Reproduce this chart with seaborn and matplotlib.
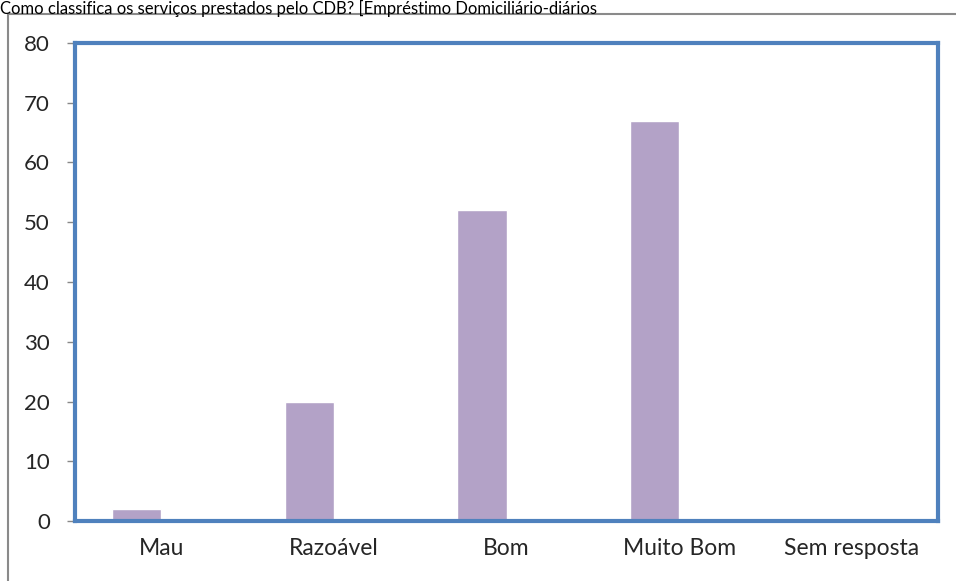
import matplotlib
matplotlib.use("Agg")
import matplotlib.pyplot as plt
import seaborn as sns
import pandas as pd
from matplotlib.lines import Line2D

categories = ["Mau", "Razoável", "Bom", "Muito Bom", "Sem resposta"]
values = [2, 20, 52, 67, 0]
empty_series = [0, 0, 0, 0, 0]
yticks = [0, 10, 20, 30, 40, 50, 60, 70, 80]
title = "Como classifica os serviços prestados pelo CDB? [Empréstimo Domiciliário-diários"

sns.set_style("white")
plt.rcParams['font.family'] = ['Lato', 'DejaVu Sans']

df = pd.DataFrame({
    "cat": categories * 2,
    "val": values + empty_series,
    "serie": ["Série 1"] * len(categories) + ["Série 2"] * len(categories),
})

fig = plt.figure(figsize=(9.56, 5.81), dpi=100)
ax = fig.add_axes([75/956, 60/581, (938-75)/956, (521-43)/581])

sns.barplot(data=df, x="cat", y="val", hue="serie",
            palette=["#B3A2C7", "#B3A2C7"], saturation=1, width=0.57,
            legend=False, ax=ax)

ax.set_ylim(0, 80)
ax.set_xlim(-0.5, len(categories) - 0.5)
ax.set_yticks(yticks)
ax.set_yticklabels([str(t) for t in yticks], fontsize=16)
ax.set_xlabel("")
ax.set_ylabel("")
ax.set_xticks([i - 0.5 for i in range(len(categories) + 1)], minor=False)
ax.set_xticklabels([""] * (len(categories) + 1))
ax.set_xticks(range(len(categories)), minor=True)
ax.set_xticklabels(categories, minor=True, fontsize=16.5)
ax.tick_params(axis="x", which="minor", length=0, pad=12)
ax.tick_params(axis="x", which="major", length=6, width=1, color="#888888", direction="out")
ax.tick_params(axis="y", length=6, width=1, color="#888888", direction="out", pad=12, left=True)
for s in ax.spines.values():
    s.set_visible(True)
    s.set_color("#4F81BD")
    s.set_linewidth(3)

# outer frame
fig.add_artist(Line2D([8/956, 8/956], [0, 1 - 14/581], transform=fig.transFigure, color="#8a8a8a", lw=1.5))
fig.add_artist(Line2D([8/956, 1], [1 - 14/581, 1 - 14/581], transform=fig.transFigure, color="#8a8a8a", lw=1.5))

fig.text(0.0, 1.0, title, fontsize=12, va="top", ha="left", color="#000000")

fig.savefig("out.png", dpi=100)
